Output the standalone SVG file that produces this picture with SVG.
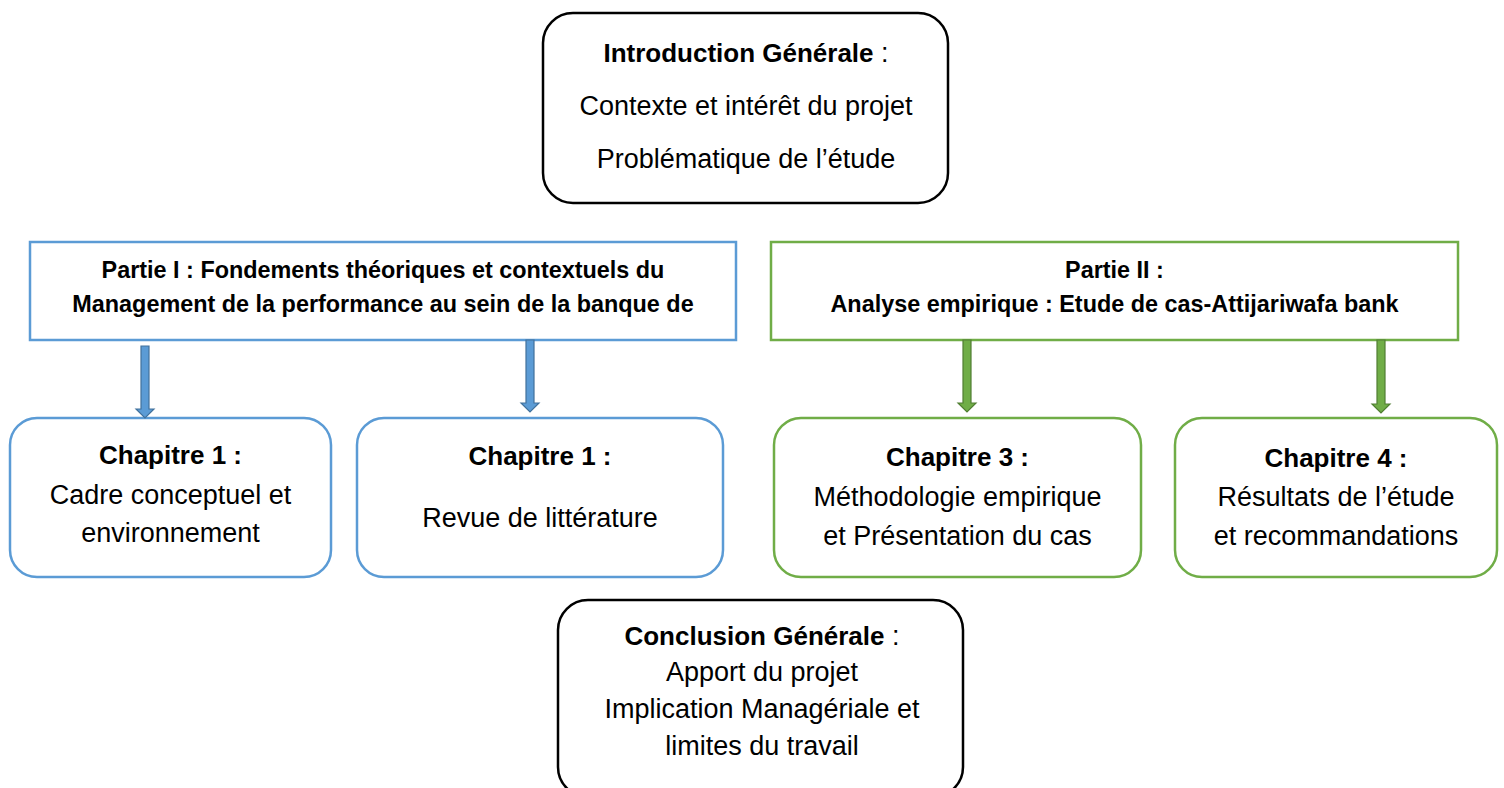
<svg xmlns="http://www.w3.org/2000/svg" width="1504" height="788" viewBox="0 0 1504 788">
  <style>
    text { font-family: "Liberation Sans", Arial, sans-serif; fill: #000; text-anchor: middle; }
    .b { font-weight: bold; }
    .n { font-weight: normal; }
    .t27 { font-size: 27px; }
    .t26 { font-size: 26px; }
    .p { font-size: 23.4px; font-weight: bold; }
    .blk { fill: #fff; stroke: #000; stroke-width: 2.5; }
    .blu { fill: #fff; stroke: #5B9BD5; stroke-width: 2.5; }
    .grn { fill: #fff; stroke: #70AD47; stroke-width: 2.5; }
    .ablu { fill: #5B9BD5; stroke: #41719C; stroke-width: 1.2; }
    .agrn { fill: #70AD47; stroke: #507E32; stroke-width: 1.2; }
  </style>
  <rect width="1504" height="788" fill="#fff"/>

  <g id="intro">
    <rect class="blk" x="543" y="13" width="405" height="190" rx="30" ry="30"/>
    <text class="t27" x="746" y="62"><tspan class="b t26">Introduction Générale</tspan><tspan class="n"> :</tspan></text>
    <text class="t27" x="746" y="115">Contexte et intérêt du projet</text>
    <text class="t27" x="746" y="168">Problématique de l’étude</text>
  </g>

  <g id="partie1">
    <rect class="blu" x="30" y="242" width="706" height="98"/>
    <text class="p" x="383" y="278">Partie I : Fondements théoriques et contextuels du</text>
    <text class="p" x="383" y="312">Management de la performance au sein de la banque de</text>
  </g>

  <g id="partie2">
    <rect class="grn" x="771" y="242" width="687" height="98"/>
    <text class="p" x="1114.5" y="278">Partie II :</text>
    <text class="p" x="1114.5" y="312">Analyse empirique : Etude de cas-Attijariwafa bank</text>
  </g>

  <g id="chap1a">
    <rect class="blu" x="10" y="418" width="321" height="159" rx="27" ry="27"/>
    <text class="b t26" x="170.5" y="464">Chapitre 1 :</text>
    <text class="t27" x="170.5" y="504">Cadre conceptuel et</text>
    <text class="t27" x="170.5" y="542">environnement</text>
  </g>

  <g id="chap1b">
    <rect class="blu" x="357" y="418" width="366" height="159" rx="27" ry="27"/>
    <text class="b t26" x="540" y="465">Chapitre 1 :</text>
    <text class="t27" x="540" y="527">Revue de littérature</text>
  </g>

  <g id="chap3">
    <rect class="grn" x="774" y="418" width="367" height="159" rx="27" ry="27"/>
    <text class="b t26" x="957.5" y="466">Chapitre 3 :</text>
    <text class="t27" x="957.5" y="506">Méthodologie empirique</text>
    <text class="t27" x="957.5" y="545">et Présentation du cas</text>
  </g>

  <g id="chap4">
    <rect class="grn" x="1175" y="418" width="322" height="159" rx="27" ry="27"/>
    <text class="b t26" x="1336" y="467">Chapitre 4 :</text>
    <text class="t27" x="1336" y="506">Résultats de l’étude</text>
    <text class="t27" x="1336" y="545">et recommandations</text>
  </g>

  <g id="conclusion">
    <rect class="blk" x="558" y="600" width="405" height="197" rx="30" ry="30"/>
    <text class="t27" x="762" y="645"><tspan class="b t26">Conclusion Générale</tspan><tspan class="n"> :</tspan></text>
    <text class="t27" x="762" y="681">Apport du projet</text>
    <text class="t27" x="762" y="718">Implication Managériale et</text>
    <text class="t27" x="762" y="755">limites du travail</text>
  </g>

  <g id="connectors">
    <path class="ablu" d="M141,346 H149 V409 H154 L145,418 L136,409 H141 Z"/>
    <path class="ablu" d="M526,340 H534 V403 H539 L530,412 L521,403 H526 Z"/>
    <path class="agrn" d="M963,340 H971 V403 H976 L967,412 L958,403 H963 Z"/>
    <path class="agrn" d="M1377,340 H1385 V404 H1390 L1381,413 L1372,404 H1377 Z"/>
  </g>
</svg>
